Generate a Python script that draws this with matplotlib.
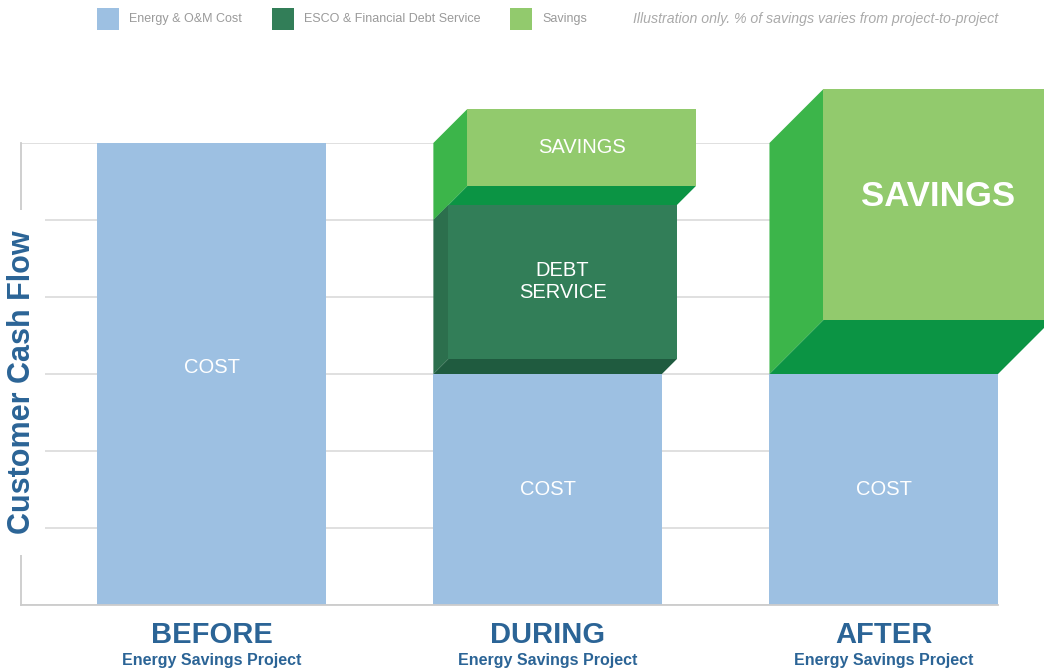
import matplotlib
matplotlib.use("Agg")
import matplotlib.pyplot as plt
from matplotlib.patches import Polygon, Rectangle
from matplotlib.transforms import blended_transform_factory

plt.rcParams['font.family'] = ['Liberation Sans', 'DejaVu Sans']

# data
stages = ['BEFORE', 'DURING', 'AFTER']
subtitle = 'Energy Savings Project'
cost = [6, 3, 3]
debt = [0, 2, 0]
savings = [0, 1, 3]
legend_labels = ['Energy & O&M Cost', 'ESCO & Financial Debt Service', 'Savings']
note = 'Illustration only. % of savings varies from project-to-project'

# colours
c_cost = '#9dc0e2'
c_debt = ('#327e58', '#2c6f4d', '#1f5b3f')   # front, left, bottom
c_sav = ('#92ca6d', '#3cb54a', '#0b9444')
blue = '#2b6496'

W, H = 1044, 670
fig = plt.figure(figsize=(W / 100, H / 100), dpi=100)
ax = fig.add_axes([21 / W, 65 / H, 977 / W, 462 / H])

bw = 0.68
x = list(range(len(stages)))
ax.set_xlim(-0.567, 2.34)
ax.set_ylim(0, 6)
ax.set_yticks(range(7))
ax.set_xticks([])
ax.set_yticklabels([])
ax.tick_params(length=0)
ax.yaxis.grid(True, color='#dddddd', lw=1.3)
ax.set_axisbelow(True)
for s in ['top', 'right']:
    ax.spines[s].set_visible(False)
for s in ['left', 'bottom']:
    ax.spines[s].set_color('#cccccc')
    ax.spines[s].set_linewidth(1.3)

ax.bar(x, cost, width=bw, color=c_cost, zorder=2)
for xi, c in zip(x, cost):
    ax.text(xi, c / 2 + (0.08 if c > 3 else 0), 'COST', color='white', fontsize=14.5,
            ha='center', va='center', zorder=5)

# pixel -> data
px_x = (ax.get_xlim()[1] - ax.get_xlim()[0]) / 977
px_y = 6 / 462


def box(xc, bottom, height, depth, cols):
    dx, dy = depth * px_x, depth * px_y
    x0, x1 = xc - bw / 2, xc + bw / 2
    t = bottom + height
    front, left, bot = cols
    ax.add_patch(Polygon([(x0, bottom), (x0, t), (x0 + dx, t + dy), (x0 + dx, bottom + dy)],
                         closed=True, color=left, lw=0, zorder=3, clip_on=False))
    ax.add_patch(Polygon([(x0, bottom), (x1, bottom), (x1 + dx, bottom + dy), (x0 + dx, bottom + dy)],
                         closed=True, color=bot, lw=0, zorder=3, clip_on=False))
    ax.add_patch(Rectangle((x0 + dx, bottom + dy), bw, height, color=front, lw=0,
                           zorder=3, clip_on=False))
    return xc + dx, bottom + dy + height / 2


# DURING: savings behind, debt in front
sx, sy = box(x[1], cost[1] + debt[1], savings[1], 34, c_sav)
ax.text(sx, sy, 'SAVINGS', color='white', fontsize=14.5, ha='center', va='center', zorder=5)
dx_, dy_ = box(x[1], cost[1], debt[1], 15, c_debt)
ax.text(dx_, dy_, 'DEBT\nSERVICE', color='white', fontsize=14.5, ha='center', va='center', zorder=5)

# AFTER
ax_, ay_ = box(x[2], cost[2], savings[2], 54, c_sav)
ax.text(ax_, ay_ + 0.1, 'SAVINGS', color='white', fontsize=25, weight='bold',
        ha='center', va='center', zorder=5)

# category labels
tr = blended_transform_factory(ax.transData, fig.transFigure)
for xi, s in zip(x, stages):
    ax.text(xi, 1 - 635 / H, s, transform=tr, ha='center', va='center',
            fontsize=21, weight='bold', color=blue)
    ax.text(xi, 1 - 661 / H, subtitle, transform=tr, ha='center', va='center',
            fontsize=11.5, weight='bold', color=blue)

# y label with white gap over the spine
fig.add_artist(Rectangle((0, 1 - 555 / H), 45 / W, 345 / H, transform=fig.transFigure,
                         color='white', lw=0, zorder=5))
fig.text(22 / W, 1 - 382 / H, 'Customer Cash Flow', rotation=90, ha='center', va='center',
         fontsize=22, weight='bold', color=blue, zorder=6)

# legend
sq_x = [97, 272, 510]
for px, lab, col in zip(sq_x, legend_labels, [c_cost, c_debt[0], c_sav[0]]):
    fig.add_artist(Rectangle((px / W, 1 - 30 / H), 22 / W, 22 / H, transform=fig.transFigure,
                             color=col, lw=0))
    fig.text((px + 32) / W, 1 - 19 / H, lab, ha='left', va='center', fontsize=9, color='#9a9a9a')
fig.text(633 / W, 1 - 19 / H, note, ha='left', va='center', fontsize=10.2, style='italic',
         color='#aaaaaa')

fig.savefig('out.png', dpi=100)
